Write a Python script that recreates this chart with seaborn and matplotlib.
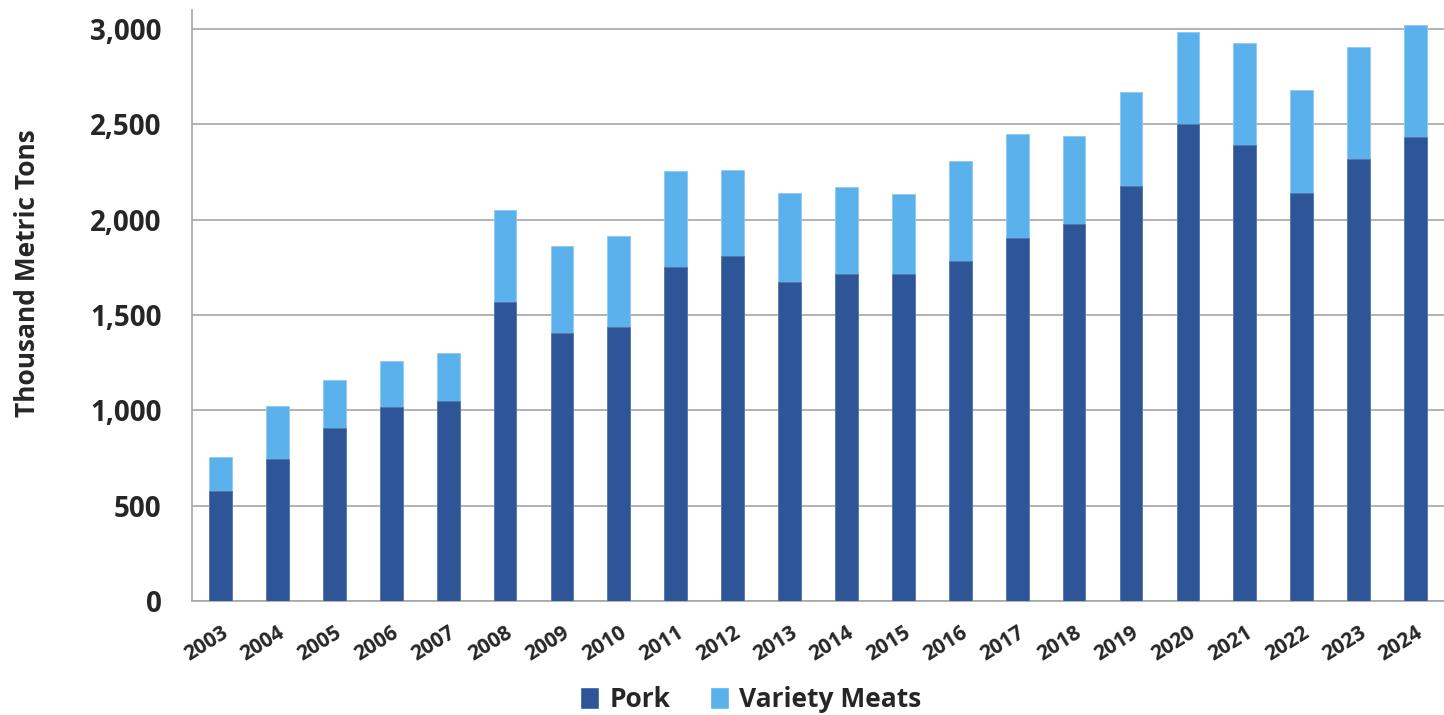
import numpy as np
import pandas as pd
import matplotlib
matplotlib.use("Agg")
import matplotlib.pyplot as plt
from matplotlib.patches import Patch
import seaborn as sns

years = [str(y) for y in range(2003, 2025)]
pork = [575, 745, 905, 1019, 1048, 1570, 1408, 1435, 1750, 1810, 1672,
        1714, 1717, 1786, 1904, 1976, 2175, 2502, 2394, 2139, 2317, 2435]
variety = [180, 276, 255, 241, 255, 482, 456, 481, 505, 452, 469,
           457, 417, 522, 544, 461, 494, 482, 534, 543, 588, 588]

dark_blue = "#2E5597"
light_blue = "#5AB1EC"

df = pd.DataFrame({"year": years, "pork": pork, "variety": variety})
df["total"] = df["pork"] + df["variety"]

sns.set_style("white")
plt.rcParams["font.family"] = ["Open Sans", "DejaVu Sans"]

fig = plt.figure(figsize=(14.44, 7.15), dpi=100)
ax = fig.add_axes([0.133, 0.1594, 0.867, 0.8266])

# stacked bars: draw the total first, pork on top of it
sns.barplot(data=df, x="year", y="total", color=light_blue, width=0.4,
            saturation=1, ax=ax, zorder=3, edgecolor="#8EC8F2", linewidth=0.6)
sns.barplot(data=df, x="year", y="pork", color=dark_blue, width=0.4,
            saturation=1, ax=ax, zorder=4, edgecolor="#5A78AA", linewidth=0.6)

ax.set_ylim(0, 3100)
ax.set_xlim(-0.5, 21.35)
ax.set_yticks(np.arange(0, 3001, 500))
ax.set_yticklabels([f"{v:,}" for v in range(0, 3001, 500)],
                   fontsize=20, fontweight="bold")
ax.yaxis.grid(True, color="#A6A6A6", linewidth=1.2, zorder=0)
ax.set_axisbelow(True)

# x ticks sit between categories, labels at the centres
ax.set_xticks(np.arange(-0.5, 21.6, 1), minor=False)
ax.set_xticklabels([])
ax.set_xticks(np.arange(0, 22), minor=True)
ax.set_xticklabels(years, minor=True, rotation=32, ha="right",
                   rotation_mode="anchor", fontsize=15, fontweight="bold")
ax.tick_params(axis="x", which="major", direction="out", length=8,
               color="#A6A6A6", width=1.2)
ax.tick_params(axis="x", which="minor", length=0, pad=15)
ax.tick_params(axis="y", direction="out", length=8, color="#A6A6A6",
               width=1.2, pad=14)

for s in ["top", "right"]:
    ax.spines[s].set_visible(False)
for s in ["left", "bottom"]:
    ax.spines[s].set_color("#A6A6A6")
    ax.spines[s].set_linewidth(1.2)

ax.set_xlabel("")
ax.set_ylabel("Thousand Metric Tons", fontsize=19, fontweight="bold")
ax.yaxis.set_label_coords(-0.121, 0.555)

handles = [Patch(facecolor=dark_blue, label="Pork"),
           Patch(facecolor=light_blue, label="Variety Meats")]
fig.legend(handles=handles, loc="lower center", bbox_to_anchor=(0.52, -0.03),
           ncol=2, frameon=False, prop={"size": 19, "weight": "bold"},
           handlelength=0.7, handleheight=0.9, handletextpad=0.4,
           columnspacing=1.5)

fig.savefig("out.png", dpi=100)
